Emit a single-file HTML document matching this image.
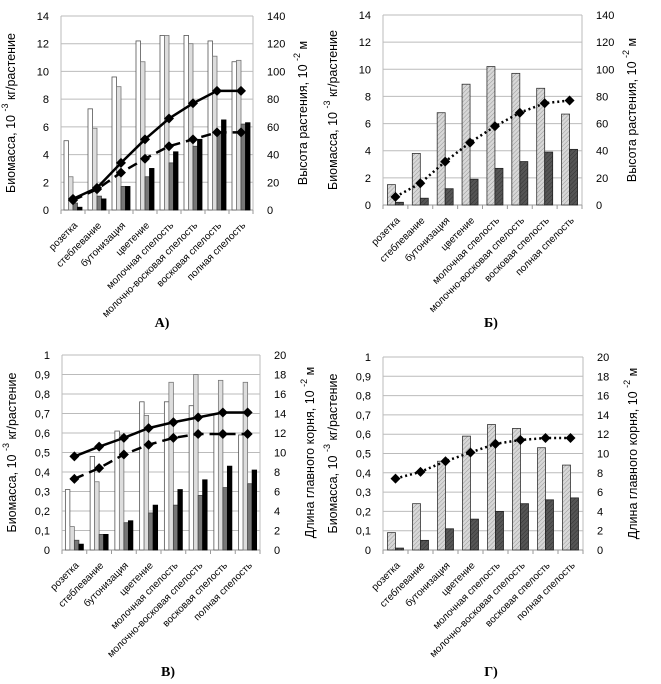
<!DOCTYPE html>
<html><head><meta charset="utf-8"><style>
html,body{margin:0;padding:0;background:#fff;}
svg{display:block;font-family:"Liberation Sans","DejaVu Sans",sans-serif;}
</style></head><body>
<svg id="s" width="661" height="684" viewBox="0 0 661 684" xmlns="http://www.w3.org/2000/svg">
<defs>
<pattern id="hl" width="3" height="3" patternUnits="userSpaceOnUse" patternTransform="rotate(45)"><rect width="3" height="3" fill="#d8d8d8"/><line x1="0" y1="0" x2="0" y2="3" stroke="#999" stroke-width="1"/></pattern>
<pattern id="hd" width="3" height="3" patternUnits="userSpaceOnUse" patternTransform="rotate(45)"><rect width="3" height="3" fill="#555"/><line x1="0" y1="0" x2="0" y2="3" stroke="#333" stroke-width="1"/></pattern>
</defs>
</svg>
<script>
var S=document.getElementById('s'),h='';
var cats=["розетка","стеблевание","бутонизация","цветение","молочная спелость","молочно-восковая спелость","восковая спелость","полная спелость"];
function panel(o){
 var x0=o.x0,x1=o.x1,yt=o.yt,yb=o.yb,cw=(x1-x0)/8;
 function Y(v){return yb-(yb-yt)*v/o.lmax;}
 function YR(v){return yb-(yb-yt)*v/o.rmax;}
 for(var i=0;i<=o.nt;i++){var v=o.lmax*i/o.nt,y=Y(v);
  if(i>0)h+='<line x1="'+x0+'" x2="'+x1+'" y1="'+y+'" y2="'+y+'" stroke="#bbb" stroke-width="1"/>';
  h+='<text x="'+(x0-12)+'" y="'+(y+4)+'" font-size="11" text-anchor="end">'+o.lf(v)+'</text>';
  h+='<text x="'+(x1+14)+'" y="'+(y+4)+'" font-size="11">'+o.rf(o.rmax*i/o.nt)+'</text>';}
 h+='<line x1="'+x0+'" x2="'+x0+'" y1="'+yt+'" y2="'+yb+'" stroke="#bbb"/>';
 h+='<line x1="'+x1+'" x2="'+x1+'" y1="'+yt+'" y2="'+yb+'" stroke="#bbb"/>';
 h+='<line x1="'+x0+'" x2="'+x1+'" y1="'+yb+'" y2="'+yb+'" stroke="#999"/>';
 for(var c=0;c<=8;c++)h+='<line x1="'+(x0+c*cw)+'" x2="'+(x0+c*cw)+'" y1="'+yb+'" y2="'+(yb+4)+'" stroke="#999"/>';
 var nb=o.bars.length,bw=o.bw,gw=nb*bw;
 for(var c=0;c<8;c++){var cx=x0+c*cw+cw/2;
  for(var b=0;b<nb;b++){var v=o.bars[b].d[c],y=Y(v);
   h+='<rect x="'+(cx-gw/2+b*bw)+'" y="'+y+'" width="'+bw+'" height="'+(yb-y)+'" fill="'+o.bars[b].f+'" stroke="'+o.bars[b].s+'" stroke-width="0.8"/>';}
  h+='<text transform="translate('+(cx+5)+','+(yb+16)+') rotate(-45)" font-size="10" text-anchor="end">'+cats[c]+'</text>';}
 o.lines.forEach(function(L){var p=L.d.map(function(v,c){return (x0+c*cw+cw/2)+','+YR(v);});
  h+='<polyline points="'+p.join(' ')+'" fill="none" stroke="#000" stroke-width="'+L.w+'" '+(L.da?'stroke-dasharray="'+L.da+'"':'')+'/>';
  L.d.forEach(function(v,c){var x=x0+c*cw+cw/2,y=YR(v);h+='<path d="M'+(x-5)+' '+y+'L'+x+' '+(y-5)+'L'+(x+5)+' '+y+'L'+x+' '+(y+5)+'Z"/>';});});
 var my=(yt+yb)/2;
 h+='<text transform="translate('+(x0-46)+','+my+') rotate(-90)" font-size="12.5" text-anchor="middle">Биомасса, 10 <tspan dy="-7" font-size="9">-3</tspan><tspan dy="7"> кг/растение</tspan></text>';
 h+='<text transform="translate('+(x1+54)+','+my+') rotate(-90)" font-size="12.5" text-anchor="middle">'+o.rt+', 10 <tspan dy="-7" font-size="9">-2</tspan><tspan dy="7"> м</tspan></text>';
 h+='<text x="'+o.cx+'" y="'+o.cy+'" font-family="Liberation Serif,serif" font-weight="bold" font-size="14" text-anchor="middle">'+o.cap+'</text>';
}
var W={f:'#fff',s:'#555'},LG={f:'#ddd',s:'#777'},MG={f:'#777',s:'#444'},BK={f:'#000',s:'#000'},HL={f:'url(#hl)',s:'#333'},HD={f:'url(#hd)',s:'#222'};
function w(b,d){return {f:b.f,s:b.s,d:d};}
var int=function(v){return Math.round(v);},dec=function(v){var r=Math.round(v*10)/10;return r==0?'0':(r==1?'1':String(r).replace('.',','));};
panel({x0:61,x1:253,yt:16,yb:210,lmax:14,rmax:140,nt:7,lf:int,rf:int,bw:4.5,rt:'Высота растения',
 bars:[w(W,[5,7.3,9.6,12.2,12.6,12.6,12.2,10.7]),w(LG,[2.4,5.9,8.9,10.7,12.6,12.0,11.1,10.8]),w(MG,[0.5,1.0,1.7,2.4,3.4,4.6,5.6,6.2]),w(BK,[0.2,0.8,1.7,3.0,4.2,5.1,6.5,6.3])],
 lines:[{d:[8,16,34,51,66,77,86,86],w:2.5},{d:[7,15,27,37,46,51,56,56],w:2.5,da:'10,6'}],cx:162,cy:327,cap:'А)'});
panel({x0:383,x1:582,yt:15,yb:205,lmax:14,rmax:140,nt:7,lf:int,rf:int,bw:8,rt:'Высота растения',
 bars:[w(HL,[1.5,3.8,6.8,8.9,10.2,9.7,8.6,6.7]),w(HD,[0.2,0.5,1.2,1.9,2.7,3.2,3.9,4.1])],
 lines:[{d:[6,16,32,46,58,68,75,77],w:2.5,da:'2,3'}],cx:491,cy:327,cap:'Б)'});
panel({x0:62,x1:260,yt:355,yb:550,lmax:1,rmax:20,nt:10,lf:dec,rf:int,bw:4.5,rt:'Длина главного корня',
 bars:[w(W,[0.31,0.48,0.61,0.76,0.76,0.74,0.70,0.59]),w(LG,[0.12,0.35,0.59,0.69,0.86,0.9,0.87,0.86]),w(MG,[0.05,0.08,0.14,0.19,0.23,0.28,0.32,0.34]),w(BK,[0.03,0.08,0.15,0.23,0.31,0.36,0.43,0.41])],
 lines:[{d:[9.6,10.6,11.5,12.5,13.1,13.6,14.1,14.1],w:2.5},{d:[7.3,8.4,9.8,10.8,11.5,11.9,11.9,11.9],w:2.5,da:'10,6'}],cx:168,cy:676,cap:'В)'});
panel({x0:383,x1:583,yt:357,yb:550,lmax:1,rmax:20,nt:10,lf:dec,rf:int,bw:8,rt:'Длина главного корня',
 bars:[w(HL,[0.09,0.24,0.46,0.59,0.65,0.63,0.53,0.44]),w(HD,[0.01,0.05,0.11,0.16,0.2,0.24,0.26,0.27])],
 lines:[{d:[7.4,8.1,9.2,10.1,11,11.4,11.6,11.6],w:2.5,da:'2,3'}],cx:491,cy:676,cap:'Г)'});
S.insertAdjacentHTML('beforeend',h);
</script>
</body></html>
